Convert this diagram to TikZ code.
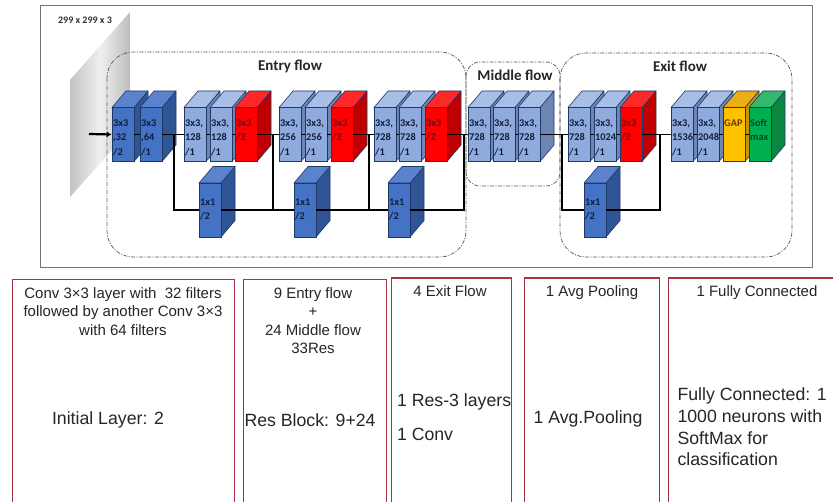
\documentclass[tikz,border=0pt]{standalone}
\usepackage{fontspec}
\usetikzlibrary{arrows.meta}
\setmainfont{Carlito}
\newfontfamily\arialfont{Liberation Sans}
\definecolor{darkfront}{RGB}{68, 114, 196}
\definecolor{darkside}{RGB}{47, 85, 151}
\definecolor{darktop}{RGB}{91, 130, 205}
\definecolor{darktext}{RGB}{16, 30, 60}
\definecolor{lightfront}{RGB}{143, 170, 220}
\definecolor{lightside}{RGB}{110, 134, 182}
\definecolor{lighttop}{RGB}{168, 190, 230}
\definecolor{lighttext}{RGB}{16, 30, 60}
\definecolor{redfront}{RGB}{255, 0, 0}
\definecolor{redside}{RGB}{192, 0, 0}
\definecolor{redtop}{RGB}{255, 40, 40}
\definecolor{redtext}{RGB}{105, 15, 15}
\definecolor{goldfront}{RGB}{255, 192, 0}
\definecolor{goldside}{RGB}{200, 150, 0}
\definecolor{goldtop}{RGB}{235, 175, 20}
\definecolor{goldtext}{RGB}{90, 60, 10}
\definecolor{greenfront}{RGB}{0, 176, 80}
\definecolor{greenside}{RGB}{10, 135, 65}
\definecolor{greentop}{RGB}{50, 185, 110}
\definecolor{greentext}{RGB}{5, 70, 35}
\definecolor{edgeblue}{RGB}{32, 56, 100}
\definecolor{boxred}{RGB}{176, 48, 70}
\definecolor{inktext}{RGB}{38, 38, 38}
\newcommand{\layerblock}[5]{
  \begin{scope}[shift={(#2,#3)}]
    \draw[blockedge,fill=#4side] (22,0) -- ++(14,-16.5) -- ++(0,54) -- ++(-14,16.5) -- cycle;
    \draw[blockedge,fill=#4top] (0,0) -- ++(14,-16.5) -- ++(22,0) -- ++(-14,16.5) -- cycle;
    \node[blockface,fill=#4front,text=#4text] (#1) at (11,27) {#5};
  \end{scope}
}
\begin{document}
\begin{tikzpicture}[x=1pt,y=-1pt,
    blockedge/.style={draw=edgeblue,line width=0.6pt,line join=round},
    blockface/.style={draw=edgeblue,line width=0.6pt,minimum width=22pt,minimum height=54pt,
      text width=19.6pt,inner xsep=1.2pt,inner ysep=0pt,text height=19pt,text depth=35pt,
      align=left,font=\bfseries\fontsize{10.3}{14.5}\selectfont},
    flowbox/.style={draw=black!65,line width=0.7pt,dash pattern=on 4pt off 1.5pt on 1pt off 1.5pt},
    flowtitle/.style={font=\bfseries\fontsize{15}{17}\selectfont,text=black!85},
    conn/.style={line width=1.7pt,black},
    skip/.style={line width=1.3pt,black},
    tablebox/.style={draw=boxred,line width=1.2pt,anchor=north west,inner sep=0pt},
    headtext/.style={font=\arialfont\fontsize{15}{18.5}\selectfont,text=inktext,align=center},
    bodytext/.style={font=\arialfont\fontsize{17.7}{20}\selectfont,text=inktext,anchor=west},
  ]
  \useasboundingbox[clip] (0,0) rectangle (833,502);
  \fill[white] (0,0) rectangle (833,502);
  \draw[black!55,line width=1pt] (40,6) rectangle (812,268);
  \shade[left color=black!24,right color=black!26,middle color=black!6]
    (70,80) -- (130,12) -- (130,130) -- (70,197) -- cycle;
  \node[font=\bfseries\fontsize{10}{12}\selectfont,text=black!80] (imgsize) at (85,20) {299 x 299 x 3};
  \draw[flowbox,rounded corners=26pt] (107,52) rectangle (466,257);
  \draw[flowbox,rounded corners=14pt] (466,62) rectangle (560,186);
  \draw[flowbox,rounded corners=26pt] (560,53) rectangle (792,257);
  \node[flowtitle] (entrytitle) at (290,66) {Entry flow};
  \node[flowtitle] (middletitle) at (515,75) {Middle flow};
  \node[flowtitle] (exittitle) at (680,66) {Exit flow};
  \foreach \n/\x/\col/\t in {
      b1/112/dark/{3x3\\,32\\/2}, b2/140/dark/{3x3\\,64\\/1},
      b3/184/light/{3x3,\\128\\/1}, b4/210/light/{3x3,\\128\\/1}, b5/235/red/{3x3\\/2},
      b6/279/light/{3x3,\\256\\/1}, b7/305/light/{3x3,\\256\\/1}, b8/331/red/{3x3\\/2},
      b9/374/light/{3x3,\\728\\/1}, b10/399/light/{3x3,\\728\\/1}, b11/425/red/{3x3\\/2},
      m1/468/light/{3x3,\\728\\/1}, m2/493/light/{3x3,\\728\\/1}, m3/518/light/{3x3,\\728\\/1},
      e1/568/light/{3x3,\\728\\/1}, e2/594/light/{3x3,\\1024\\/1}, e3/620/red/{3x3\\/2},
      e4/671/light/{3x3,\\1536\\/1}, e5/697/light/{3x3,\\2048\\/1},
      e6/723/gold/{GAP}, e7/749/green/{Soft\\max}}
    \layerblock{\n}{\x}{107.5}{\col}{\t};
  \begin{scope}[blockface/.append style={text height=22.5pt,text depth=31.5pt}]
    \foreach \n/\x in {s1/199, s2/294, s3/388, s4/584}
      \layerblock{\n}{\x}{183}{dark}{1x1\\/2};
  \end{scope}
  \coordinate (start) at (89,134);
  \coordinate (j1) at (174,134);
  \coordinate (j2) at (273,134);
  \coordinate (j3) at (369,134);
  \coordinate (j4) at (464,134);
  \coordinate (j5) at (562,134);
  \coordinate (j6) at (660,134);
  \draw[line width=2.2pt,-{Latex[length=5pt,width=6pt]}] (start) -- (b1.west);
  \foreach \a/\b in {b1/b2,b2/b3,b3/b4,b4/b5,b5/b6,b6/b7,b7/b8,b8/b9,b9/b10,b10/b11,b11/m1,
      m1/m2,m2/m3,m3/e1,e1/e2,e2/e3,e3/e4,e4/e5,e5/e6,e6/e7}
    \draw[conn] (\a.east) -- (\b.west);
  \draw[skip] (j1) -- (j1 |- s1.west) -- (s1.west);
  \draw[skip] (s1.east) -- (s2.west);
  \draw[skip] (j2) -- (j2 |- s1.east);
  \draw[skip] (s2.east) -- (s3.west);
  \draw[skip] (j3) -- (j3 |- s2.east);
  \draw[skip] (s3.east) -| (j4);
  \draw[skip] (j5) -- (j5 |- s4.west) -- (s4.west);
  \draw[skip] (s4.east) -| (j6);
  \node[tablebox,minimum width=222pt,minimum height=240pt] (initbox) at (12,279) {};
  \node[tablebox,minimum width=143pt,minimum height=240pt] (resbox) at (243,279) {};
  \node[tablebox,minimum width=120pt,minimum height=240pt] (exitbox) at (391,277.5) {};
  \node[tablebox,minimum width=135pt,minimum height=240pt] (avgbox) at (524,277.5) {};
  \node[tablebox,minimum width=180pt,minimum height=240pt] (fcbox) at (668,277.5) {};
  \node[headtext,anchor=north] (inithead) at (123,284) {Conv 3×3 layer with\ \ 32 filters\\followed by another Conv 3×3\\with 64 filters};
  \node[headtext,anchor=north] (reshead) at (313,284) {9 Entry flow\\+\\24 Middle flow\\33Res};
  \node[headtext,anchor=north] (exithead) at (450,282) {4 Exit Flow};
  \node[headtext,anchor=north] (avghead) at (592,282) {1 Avg Pooling};
  \node[headtext,anchor=north] (fchead) at (757,282) {1 Fully Connected};
  \node[bodytext] (initbody) at (48.5,420) {Initial Layer: 2};
  \node[bodytext] (resbody) at (241,420) {Res Block: 9+24};
  \node[bodytext] (exitbodya) at (393.5,402) {1 Res-3 layers};
  \node[bodytext] (exitbodyb) at (393.5,434) {1 Conv};
  \node[bodytext] (avgbody) at (530,419) {1 Avg.Pooling};
  \node[bodytext,align=left,font=\arialfont\fontsize{17.7}{21.7}\selectfont] (fcbody) at (674,427) {Fully Connected: 1\\1000 neurons with\\SoftMax for\\classification};
\end{tikzpicture}
\end{document}
